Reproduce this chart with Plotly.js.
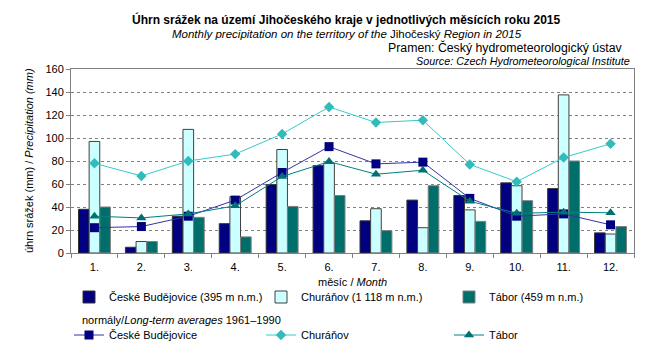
<!DOCTYPE html>
<html>
<head>
<meta charset="utf-8">
<script src="https://cdn.plot.ly/plotly-3.0.1.min.js"></script>
<style>html,body{margin:0;padding:0;background:#fff}#chart{width:657px;height:350px}</style>
</head>
<body>
<div id="chart"></div>
<script>
const months = ["1.","2.","3.","4.","5.","6.","7.","8.","9.","10.","11.","12."];
const cbNames = "České Budějovice (395 m n.m.)";
const chNames = "Churáňov (1 118 m n.m.)";
const tbNames = "Tábor (459 m n.m.)";
const cbNormName = "České Budějovice";
const chNormName = "Churáňov";
const tbNormName = "Tábor";
const cb2015 = [38, 5, 32, 25.5, 59.5, 76, 28, 46, 50, 61, 56, 17.5];
const ch2015 = [97, 10, 107.5, 49, 90, 78, 38.5, 22, 37.5, 58.5, 137.5, 16.5];
const tb2015 = [40, 10, 31, 14, 40.5, 50, 19.5, 58.5, 27.5, 45.5, 80, 23];
const cbNorm = [22, 23, 32, 46, 70, 92.5, 77.5, 79, 47.5, 32, 34, 24.5];
const chNorm = [78, 67, 80, 86, 103.5, 127, 113.5, 115.5, 77, 62, 83, 95];
const tbNorm = [32, 30.5, 34, 41, 66.5, 79.5, 68.5, 72, 45, 34.5, 35.5, 35];

const F = "Liberation Sans, Arial, sans-serif";

const traces = [
  {type:"bar", x:months, y:cb2015, name:cbNames, legend:"legend",
   marker:{color:"#000080", line:{color:"#333333", width:1}}},
  {type:"bar", x:months, y:ch2015, name:chNames, legend:"legend2",
   marker:{color:"#CCFFFF", line:{color:"#404040", width:1}}},
  {type:"bar", x:months, y:tb2015, name:tbNames, legend:"legend3",
   marker:{color:"#006F6B", line:{color:"#808080", width:1}}},
  {type:"scatter", mode:"lines+markers", x:months, y:cbNorm, name:cbNormName, legend:"legend4",
   line:{color:"#3333AA", width:1}, marker:{symbol:"square", size:9, color:"#000080"}},
  {type:"scatter", mode:"lines+markers", x:months, y:chNorm, name:chNormName, legend:"legend5",
   line:{color:"#33CCCC", width:1}, marker:{symbol:"diamond", size:8, color:"#33BBBB"}},
  {type:"scatter", mode:"lines+markers", x:months, y:tbNorm, name:tbNormName, legend:"legend6",
   line:{color:"#008080", width:1}, marker:{symbol:"triangle-up", size:9, color:"#007070"}}
];

function leg(px, py) {
  return {orientation:"h", xref:"container", yref:"container", x:px/657, xanchor:"left",
    y:(350-py)/350, yanchor:"middle", itemwidth:30,
    font:{family:F, size:11}, bgcolor:"rgba(0,0,0,0)"};
}

const layout = {
  width:657, height:350,
  margin:{l:71, r:23, t:69, b:97, autoexpand:false},
  paper_bgcolor:"#fff", plot_bgcolor:"#fff",
  font:{family:F, size:11, color:"#000"},
  barmode:"group", bargap:0.32, bargroupgap:0,
  showlegend:true,
  xaxis:{type:"category", range:[-0.5, 11.5], showline:true, linecolor:"#808080", linewidth:1, mirror:true,
    ticks:"outside", tickson:"boundaries", ticklen:4, tickcolor:"#808080", ticklabelstandoff:4,
    tickfont:{family:F, size:11}, showgrid:false, automargin:false},
  yaxis:{range:[0,160], dtick:20, showline:true, linecolor:"#808080", linewidth:1, mirror:true,
    ticks:"outside", ticklen:4, tickcolor:"#808080", automargin:false,
    showgrid:true, gridcolor:"#808080", griddash:"dot", gridwidth:1, zeroline:false,
    tickfont:{family:F, size:11}},
  legend: leg(69, 297),
  legend2: leg(261, 297),
  legend3: leg(449, 297),
  legend4: leg(69, 335),
  legend5: leg(261, 335),
  legend6: leg(449, 335),
  annotations:[
    {text:"<b>Úhrn srážek na území Jihočeského kraje v jednotlivých měsících roku 2015</b>",
     xref:"paper", yref:"paper", x:0.49, y:1, yshift:50, showarrow:false, xanchor:"center", yanchor:"middle",
     font:{family:F, size:12}},
    {text:"<i>Monthly precipitation on the territory of the</i> Jihočeský <i>Region in 2015</i>",
     xref:"paper", yref:"paper", x:0.49, y:1, yshift:35, showarrow:false, xanchor:"center", yanchor:"middle",
     font:{family:F, size:11.5}},
    {text:"Pramen: Český hydrometeorologický ústav",
     xref:"paper", yref:"paper", x:1, y:1, xshift:-9, yshift:22, showarrow:false, xanchor:"right", yanchor:"middle",
     font:{family:F, size:12.3}},
    {text:"<i>Source: Czech Hydrometeorological Institute</i>",
     xref:"paper", yref:"paper", x:1, y:1, xshift:-2, yshift:8, showarrow:false, xanchor:"right", yanchor:"middle",
     font:{family:F, size:10.8}},
    {text:"měsíc / <i>Month</i>",
     xref:"paper", yref:"paper", x:0.5, y:0, yshift:-29, showarrow:false, xanchor:"center", yanchor:"middle",
     font:{family:F, size:11}},
    {text:"úhrn srážek (mm) / <i>Precipitation (mm)</i>", textangle:-90,
     xref:"paper", yref:"paper", x:0, xshift:-42, y:0.5, showarrow:false, xanchor:"center", yanchor:"middle",
     font:{family:F, size:11}},
    {text:"normály/<i>Long-term averages</i> 1961–1990",
     xref:"paper", yref:"paper", x:0, xshift:9, y:0, yshift:-67, showarrow:false, xanchor:"left", yanchor:"middle",
     font:{family:F, size:11}}
  ]
};

Plotly.newPlot("chart", traces, layout, {displayModeBar:false, staticPlot:true});
</script>
</body>
</html>
